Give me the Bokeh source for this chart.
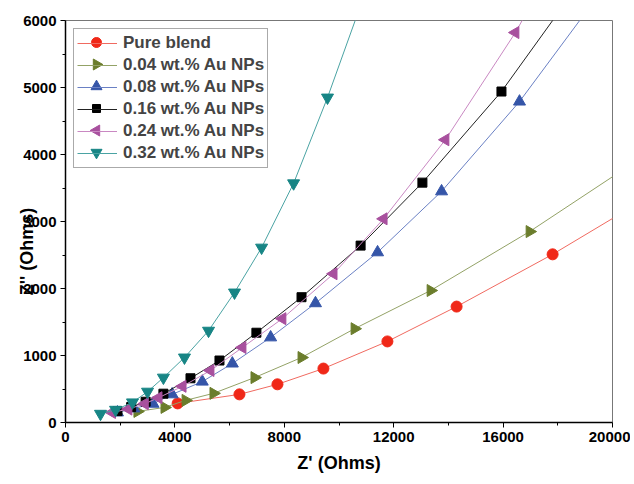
import math
from bokeh.plotting import figure
from bokeh.models import Range1d, FixedTicker, LegendItem, Legend
from bokeh.embed import file_html
from bokeh.resources import INLINE

# ---- data ----
pure_x = [4100, 6360, 7750, 9430, 11770, 14300, 17810, 21700]
pure_y = [285, 420, 570, 805, 1210, 1730, 2510, 3460]

w004_x = [2630, 3620, 4390, 5410, 6910, 8630, 10570, 13350, 16970, 20600]
w004_y = [165, 225, 330, 435, 670, 970, 1400, 1970, 2850, 3830]

w008_x = [1900, 2500, 3200, 3900, 5000, 6100, 7500, 9140, 11410, 13750, 16600, 19800]
w008_y = [150, 210, 280, 420, 610, 880, 1270, 1780, 2540, 3450, 4790, 6550]

w016_x = [1900, 2400, 2930, 3580, 4570, 5630, 6980, 8630, 10790, 13050, 15940, 19400]
w016_y = [170, 230, 310, 430, 660, 925, 1340, 1870, 2640, 3580, 4940, 6900]

w024_x = [1700, 2300, 2900, 3400, 4280, 5300, 6470, 7930, 9800, 11630, 13890, 16450, 19300]
w024_y = [150, 200, 280, 370, 540, 776, 1120, 1550, 2220, 3040, 4220, 5820, 7900]

w032_x = [1280, 1830, 2450, 3000, 3580, 4350, 5230, 6180, 7170, 8340, 9580, 10900]
w032_y = [130, 190, 300, 460, 670, 970, 1370, 1940, 2610, 3570, 4850, 6350]

series_names = ["Pure blend", "0.04 wt.% Au NPs", "0.08 wt.% Au NPs",
                "0.16 wt.% Au NPs", "0.24 wt.% Au NPs", "0.32 wt.% Au NPs"]

x_ticks = [0, 4000, 8000, 12000, 16000, 20000]
x_minor = [2000, 6000, 10000, 14000, 18000]
y_ticks = [0, 1000, 2000, 3000, 4000, 5000, 6000]
y_minor = [500, 1500, 2500, 3500, 4500, 5500]
X0, X1 = 0, 20000
Y0, Y1 = 0, 6000

FONT = "Liberation Sans"

# layout (pixels)
W, H = 630, 480
BL, BT, BR, BB = 65, 20, 18, 58
FW, FH = W - BL - BR, H - BT - BB

p = figure(width=W, height=H, output_backend="svg", toolbar_location=None,
           x_range=Range1d(X0, X1), y_range=Range1d(Y0, Y1),
           min_border_left=BL, min_border_right=BR, min_border_top=BT, min_border_bottom=BB)
p.xgrid.visible = False
p.ygrid.visible = False
p.outline_line_color = "#777777"
p.outline_line_width = 1

# marker, angle, size, marker colour, line colour
styles = [
    ("circle", 0, 11, "#f02818", "#f06a60"),
    ("triangle", -math.pi / 2, 12, "#6b7d2c", "#93a266"),
    ("triangle", 0, 12, "#3555a8", "#6a80c4"),
    ("square", 0, 9, "#000000", "#222222"),
    ("triangle", math.pi / 2, 12, "#a8509e", "#c988c2"),
    ("inverted_triangle", 0, 12, "#178585", "#4aa3a3"),
]
data = [(pure_x, pure_y), (w004_x, w004_y), (w008_x, w008_y),
        (w016_x, w016_y), (w024_x, w024_y), (w032_x, w032_y)]

# legend geometry (pixels)
LG_MARGIN, LG_PAD, LG_GH, LG_SP, LG_GW = 8, 3, 22, 0, 40

items = []
for i, (name, (xs, ys), (marker, ang, sz, mc, lc)) in enumerate(zip(series_names, data, styles)):
    lr = p.line(xs, ys, line_color=lc, line_width=1)
    p.scatter(xs, ys, marker=marker, angle=ang, size=sz, fill_color=mc, line_color=mc)
    items.append(LegendItem(label=name, renderers=[lr]))
    # legend keys ignore marker rotation, so the key markers are drawn here
    sx = LG_MARGIN + LG_PAD + LG_GW / 2
    sy = LG_MARGIN + LG_PAD + i * (LG_GH + LG_SP) + LG_GH / 2
    kx = X0 + sx / FW * (X1 - X0)
    ky = Y1 - sy / FH * (Y1 - Y0)
    p.scatter([kx], [ky], marker=marker, angle=ang, size=sz - 1, fill_color=mc,
              line_color=mc, level="overlay")

lg = Legend(items=items, location="top_left")
p.add_layout(lg)
lg.margin = LG_MARGIN
lg.padding = LG_PAD
lg.spacing = LG_SP
lg.glyph_height = LG_GH
lg.glyph_width = LG_GW
lg.label_standoff = 6
lg.label_text_font = FONT
lg.label_text_font_style = "bold"
lg.label_text_font_size = "17px"
lg.label_height = LG_GH
lg.border_line_color = "#555555"
lg.border_line_width = 1
lg.background_fill_alpha = 0.0

for ax in (p.xaxis[0], p.yaxis[0]):
    ax.axis_line_width = 1.5
    ax.axis_line_color = "black"
    ax.major_tick_line_color = "black"
    ax.minor_tick_line_color = "black"
    ax.major_tick_out = 5
    ax.major_tick_in = 0
    ax.minor_tick_out = 3
    ax.minor_tick_in = 0
    ax.major_label_text_font = FONT
    ax.major_label_text_font_style = "bold"
    ax.major_label_text_font_size = "15px"
    ax.major_label_text_color = "black"
    ax.axis_label_text_font = FONT
    ax.axis_label_text_font_style = "bold"
    ax.axis_label_text_font_size = "18px"
    ax.axis_label_text_color = "black"

p.xaxis.ticker = FixedTicker(ticks=x_ticks, minor_ticks=x_minor)
p.yaxis.ticker = FixedTicker(ticks=y_ticks, minor_ticks=y_minor)
p.xaxis.major_label_standoff = 4
p.yaxis.major_label_standoff = 4

p.xaxis.axis_label = "Z' (Ohms)"
p.xaxis.axis_label_standoff = 8
# the reference's y title sits lower than centre and overlaps the tick labels
p.yaxis.axis_label = "Z'' (Ohms)" + "\u00a0" * 12
p.yaxis.axis_label_standoff = -17

open("out.html", "w").write(file_html(p, INLINE))
